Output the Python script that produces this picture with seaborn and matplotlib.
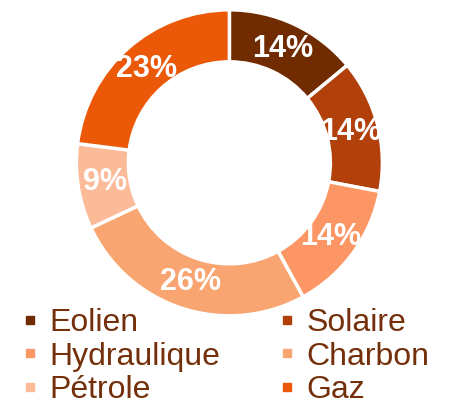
import matplotlib
matplotlib.use('Agg')
import matplotlib.pyplot as plt
from matplotlib.lines import Line2D
import seaborn as sns

sns.set_theme(style='white')
plt.rcParams['font.family'] = ['Liberation Sans', 'DejaVu Sans']

sources = ['Eolien', 'Solaire', 'Hydraulique', 'Charbon', 'Pétrole', 'Gaz']
shares = [14, 14, 14, 26, 9, 23]
colors = ['#702B00', '#B2400A', '#FC9664', '#F9A572', '#FBBA98', '#EA5808']
text_color = '#73300A'

fig = plt.figure(figsize=(4.52, 4.05), dpi=100)
ax = fig.add_axes([0.169, 0.22, 0.677, 0.756])

wedges, texts, autotexts = ax.pie(
    shares, colors=colors, startangle=90, counterclock=False,
    autopct='%.0f%%', pctdistance=0.82,
    wedgeprops=dict(width=0.34, edgecolor='white', linewidth=2.5),
    textprops=dict(color='white', fontsize=22, fontweight='bold'))
ax.set_xlim(-1, 1)
ax.set_ylim(-1, 1)
ax.set_aspect('equal')
ax.axis('off')

# legend is filled row by row in the reference: reorder for ncol=2
order = [0, 2, 4, 1, 3, 5]
handles = [Line2D([], [], marker='s', linestyle='', markersize=6,
                  color=colors[i]) for i in order]
labels = [sources[i] for i in order]
leg = fig.legend(handles, labels, ncol=2, loc='upper left',
                 bbox_to_anchor=(0.045, 0.24), frameon=False,
                 fontsize=23, handlelength=0.6, handletextpad=0.3,
                 columnspacing=1.8, labelspacing=0.12, borderpad=0,
                 borderaxespad=0)
for t in leg.get_texts():
    t.set_color(text_color)

fig.savefig('out.png', dpi=100)
